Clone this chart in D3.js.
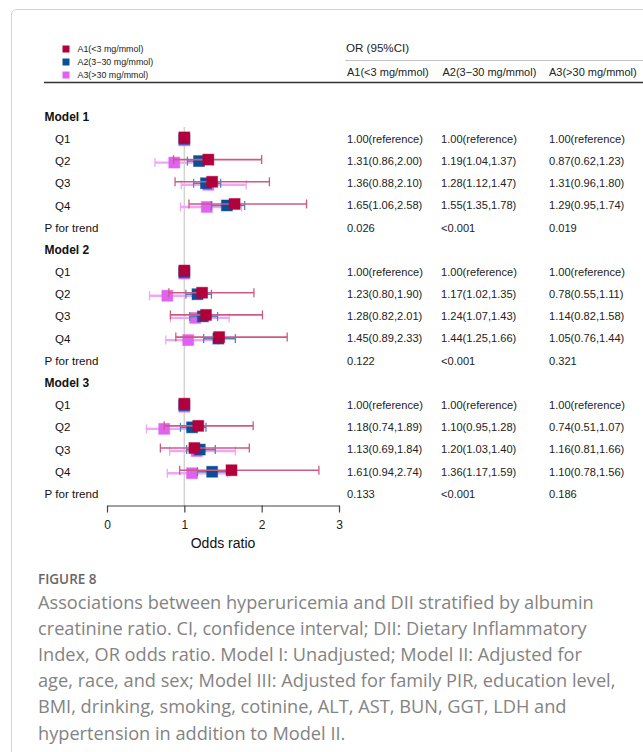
<!DOCTYPE html>
<html>
<head>
<meta charset="utf-8">
<script src="https://cdn.jsdelivr.net/npm/d3@7"></script>
<style>
  html, body { margin: 0; padding: 0; background: #fff; }
  svg { display: block; }
</style>
</head>
<body>
<svg id="chart" width="643" height="752"></svg>
<script>
// ---- data ----
const seriesNames = ["A1(<3 mg/mmol)", "A2(3\u221230 mg/mmol)", "A3(>30 mg/mmol)"];
const modelNames = ["Model 1", "Model 2", "Model 3"];
const quartiles = ["Q1", "Q2", "Q3", "Q4"];

// odds ratios per model (rows) and quartile (cols); Q1 is the reference
const a1OR   = [[1.00, 1.31, 1.36, 1.65], [1.00, 1.23, 1.28, 1.45], [1.00, 1.18, 1.13, 1.61]];
const a1Low  = [[null, 0.86, 0.88, 1.06], [null, 0.80, 0.82, 0.89], [null, 0.74, 0.69, 0.94]];
const a1High = [[null, 2.00, 2.10, 2.58], [null, 1.90, 2.01, 2.33], [null, 1.89, 1.84, 2.74]];

const a2OR   = [[1.00, 1.19, 1.28, 1.55], [1.00, 1.17, 1.24, 1.44], [1.00, 1.10, 1.20, 1.36]];
const a2Low  = [[null, 1.04, 1.12, 1.35], [null, 1.02, 1.07, 1.25], [null, 0.95, 1.03, 1.17]];
const a2High = [[null, 1.37, 1.47, 1.78], [null, 1.35, 1.43, 1.66], [null, 1.28, 1.40, 1.59]];

const a3OR   = [[1.00, 0.87, 1.31, 1.29], [1.00, 0.78, 1.14, 1.05], [1.00, 0.74, 1.16, 1.10]];
const a3Low  = [[null, 0.62, 0.96, 0.95], [null, 0.55, 0.82, 0.76], [null, 0.51, 0.81, 0.78]];
const a3High = [[null, 1.23, 1.80, 1.74], [null, 1.11, 1.58, 1.44], [null, 1.07, 1.66, 1.56]];

const pTrend = [["0.026", "<0.001", "0.019"], ["0.122", "<0.001", "0.321"], ["0.133", "<0.001", "0.186"]];

const xTicks = [0, 1, 2, 3];

const captionTitle = "FIGURE 8";
const captionLines = [
  "Associations between hyperuricemia and DII stratified by albumin",
  "creatinine ratio. CI, confidence interval; DII: Dietary Inflammatory",
  "Index, OR odds ratio. Model I: Unadjusted; Model II: Adjusted for",
  "age, race, and sex; Model III: Adjusted for family PIR, education level,",
  "BMI, drinking, smoking, cotinine, ALT, AST, BUN, GGT, LDH and",
  "hypertension in addition to Model II."
];

// ---- styling ----
const fill = ["#b1003b", "#0b4f99", "#e062f2"];
const lineCol = ["#cf5a80", "#4f83c2", "#f0a6f8"];
const lineW = [1.6, 1.6, 2.4];
const yShift = [-1.5, 0, 1.5];
const font = "'Liberation Sans', Arial, sans-serif";

const svg = d3.select("#chart");

// page frame
svg.append("path")
  .attr("d", "M11.5,760 V15 Q11.5,9.5 17,9.5 H700")
  .attr("fill", "none").attr("stroke", "#d4d4d4").attr("stroke-width", 1);

// ---- scales ----
const x = d3.scaleLinear().domain([0, 3]).range([107, 339]);
const rowStep = 22.19, row0 = 116.7;
const rowY = i => row0 + i * rowStep;

// build row list
const rows = [];
modelNames.forEach((m, mi) => {
  rows.push({ type: "model", label: m, mi });
  quartiles.forEach((q, qi) => rows.push({ type: "q", label: q, mi, qi }));
  rows.push({ type: "p", label: "P for trend", mi });
});

const ors = [a1OR, a2OR, a3OR], lows = [a1Low, a2Low, a3Low], highs = [a1High, a2High, a3High];

// ---- legend ----
const leg = svg.append("g");
seriesNames.forEach((s, i) => {
  const cy = 49 + i * 13;
  leg.append("rect").attr("x", 62.5).attr("y", cy - 3.5).attr("width", 7).attr("height", 7).attr("fill", fill[i]);
  leg.append("text").attr("x", 77.5).attr("y", cy).attr("dy", "0.35em")
    .attr("font-family", font).attr("font-size", 8.9).attr("fill", "#222").text(s);
});

// header rules
svg.append("line").attr("x1", 44).attr("x2", 643).attr("y1", 82.5).attr("y2", 82.5)
  .attr("stroke", "#333").attr("stroke-width", 1.6);
svg.append("line").attr("x1", 345).attr("x2", 643).attr("y1", 60.5).attr("y2", 60.5)
  .attr("stroke", "#c4c4c4").attr("stroke-width", 1);

// table header
const colX = [347, 441, 549];
svg.append("text").attr("x", 346).attr("y", 48).attr("dy", "0.35em")
  .attr("font-family", font).attr("font-size", 11.6).attr("fill", "#222").text("OR (95%CI)");
seriesNames.forEach((s, i) => {
  svg.append("text").attr("x", colX[i] + (i === 1 ? 1.5 : 0)).attr("y", 72.5).attr("dy", "0.35em")
    .attr("font-family", font).attr("font-size", 11).attr("fill", "#222").text(s);
});

// ---- row labels ----
svg.append("g").selectAll("text").data(rows).join("text")
  .attr("x", d => d.type === "q" ? 55 : 44.5)
  .attr("y", (d, i) => rowY(i)).attr("dy", "0.35em")
  .attr("font-family", font)
  .attr("font-size", d => d.type === "model" ? 12 : 11.6)
  .attr("font-weight", d => d.type === "model" ? "bold" : "normal")
  .attr("fill", "#111")
  .text(d => d.label);

// ---- table values ----
const f2 = d3.format(".2f");
rows.forEach((r, i) => {
  if (r.type === "model") return;
  for (let s = 0; s < 3; s++) {
    let t;
    if (r.type === "p") t = pTrend[r.mi][s];
    else if (lows[s][r.mi][r.qi] === null) t = f2(ors[s][r.mi][r.qi]) + "(reference)";
    else t = `${f2(ors[s][r.mi][r.qi])}(${f2(lows[s][r.mi][r.qi])},${f2(highs[s][r.mi][r.qi])})`;
    svg.append("text").attr("x", colX[s]).attr("y", rowY(i)).attr("dy", "0.35em")
      .attr("font-family", font).attr("font-size", 11.1).attr("fill", "#222").text(t);
  }
});

// ---- reference line at OR = 1 ----
svg.append("line").attr("x1", x(1)).attr("x2", x(1)).attr("y1", 127).attr("y2", 505)
  .attr("stroke", "#d2d2d2").attr("stroke-width", 1.5);

// ---- forest marks (A3 first, A1 on top) ----
const marks = svg.append("g");
[2, 1, 0].forEach(s => {
  rows.forEach((r, i) => {
    if (r.type !== "q") return;
    const cy = rowY(i) + yShift[s];
    const o = ors[s][r.mi][r.qi], lo = lows[s][r.mi][r.qi], hi = highs[s][r.mi][r.qi];
    const g = marks.append("g");
    if (lo !== null) {
      g.append("line").attr("x1", x(lo)).attr("x2", x(hi)).attr("y1", cy).attr("y2", cy)
        .attr("stroke", lineCol[s]).attr("stroke-width", lineW[s]);
      [lo, hi].forEach(v => g.append("line").attr("x1", x(v)).attr("x2", x(v))
        .attr("y1", cy - 4.5).attr("y2", cy + 4.5)
        .attr("stroke", lineCol[s]).attr("stroke-width", 1.3));
    }
    g.append("rect").attr("x", x(o) - 5.5).attr("y", cy - 5.5).attr("width", 11).attr("height", 11)
      .attr("fill", fill[s]).attr("stroke", fill[s]).attr("stroke-opacity", 0.45).attr("stroke-width", 1);
  });
});

// ---- x axis ----
const axis = svg.append("g").attr("transform", "translate(0,505.5)")
  .call(d3.axisBottom(x).tickValues(xTicks).tickFormat(d3.format("d")).tickSize(7).tickSizeOuter(0));
axis.select(".domain").attr("stroke", "#444").attr("stroke-width", 1.2);
axis.selectAll(".tick line").attr("stroke", "#444").attr("stroke-width", 1.2);
axis.selectAll(".tick text").attr("font-family", font).attr("font-size", 12).attr("fill", "#222").attr("dy", "1.1em");
svg.append("text").attr("x", x(1.5)).attr("y", 543).attr("dy", "0.35em").attr("text-anchor", "middle")
  .attr("font-family", font).attr("font-size", 14).attr("fill", "#111").text("Odds ratio");

// ---- caption ----
svg.append("text").attr("x", 38).attr("y", 584)
  .attr("font-family", "'Open Sans', sans-serif").attr("font-size", 13.5).attr("font-weight", 600)
  .attr("fill", "#666").text(captionTitle);
svg.append("g").selectAll("text").data(captionLines).join("text")
  .attr("x", 38).attr("y", (d, i) => 609 + i * 26.1)
  .attr("font-family", "'Open Sans', sans-serif").attr("font-size", 18.2)
  .attr("fill", "#838383").text(d => d);
</script>
</body>
</html>
